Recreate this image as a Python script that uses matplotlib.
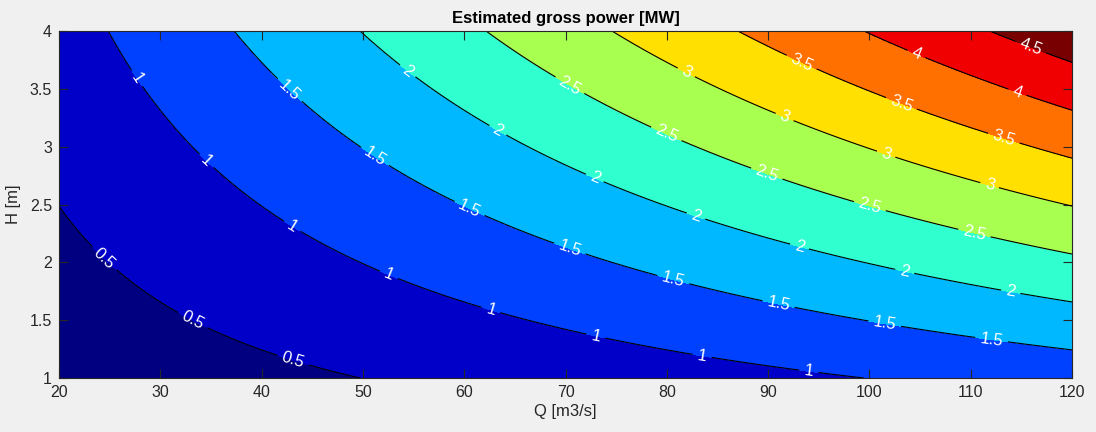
import numpy as np
import matplotlib
matplotlib.use('Agg')
import matplotlib.pyplot as plt

# Estimated gross power P = rho * g * Q * H  (MW)
rho = 1025.0      # kg/m3
g = 9.81          # m/s2
Q = np.linspace(20, 120, 301)    # m3/s
H = np.linspace(1, 4, 201)       # m
levels = [0.5, 1.0, 1.5, 2.0, 2.5, 3.0, 3.5, 4.0, 4.5]
band_colors = ['#000080', '#0000C8', '#0040FF', '#00B8FF', '#30FFD0',
               '#A8FF50', '#FFE000', '#FF7000', '#F00000', '#780000']
xticks = [20, 30, 40, 50, 60, 70, 80, 90, 100, 110, 120]
yticks = [1, 1.5, 2, 2.5, 3, 3.5, 4]

QQ, HH = np.meshgrid(Q, H)
P = rho * g * QQ * HH / 1e6

plt.rcParams['font.family'] = ['Liberation Sans', 'DejaVu Sans']
txt = '#262626'

fig = plt.figure(figsize=(10.96, 4.32), dpi=100, facecolor='#f0f0f0')
ax = fig.add_axes([59 / 1096, 1 - 378 / 432, 1013 / 1096, 347 / 432])

bounds = [P.min() - 1] + levels + [P.max() + 1]
ax.contourf(QQ, HH, P, levels=bounds, colors=band_colors)
cl = ax.contour(QQ, HH, P, levels=levels, colors='black', linewidths=0.8)

ax.set_xlim(20, 120)
ax.set_ylim(1, 4)

# labels every ~108 px along each line, centred on the line (like MATLAB)
spacing = 108.0
positions = []
for path in cl.get_paths():
    for poly in path.to_polygons(closed_only=False):
        if len(poly) < 2:
            continue
        disp = ax.transData.transform(poly)
        seg = np.hypot(*np.diff(disp, axis=0).T)
        s = np.concatenate([[0], np.cumsum(seg)])
        L = s[-1]
        n = max(int(L // spacing), 1)
        start = (L - (n - 1) * spacing) / 2
        for k in range(n):
            t = start + k * spacing
            x = np.interp(t, s, poly[:, 0])
            y = np.interp(t, s, poly[:, 1])
            positions.append((x, y))

ax.clabel(cl, levels, inline=True, inline_spacing=5, fontsize=12,
          colors='white', fmt='%g', manual=positions)

ax.set_xticks(xticks)
ax.set_yticks(yticks)
ax.set_yticklabels(['1', '1.5', '2', '2.5', '3', '3.5', '4'])
ax.tick_params(direction='in', length=6.5, width=0.8, top=True, right=True,
               colors=txt, labelsize=11.5, pad=5)
for sp in ax.spines.values():
    sp.set_color(txt)
    sp.set_linewidth(0.8)

ax.set_title('Estimated gross power [MW]', fontsize=12, fontweight='bold',
             color='black', pad=6)
ax.set_xlabel('Q [m3/s]', fontsize=12, color=txt, labelpad=3)
ax.set_ylabel('H [m]', fontsize=12, color=txt, labelpad=6)

fig.savefig('out.png', dpi=100, facecolor=fig.get_facecolor())
